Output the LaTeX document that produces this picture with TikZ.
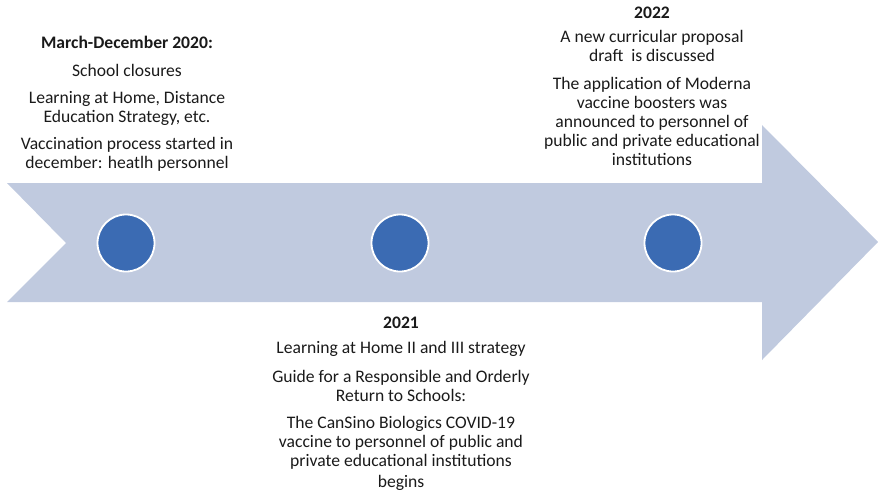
\documentclass[tikz,border=0pt]{standalone}
\usepackage{fontspec}
\setmainfont{Carlito}
\definecolor{arrowfill}{HTML}{C0CADF}
\definecolor{dotfill}{HTML}{3B6BB3}
\definecolor{ink}{HTML}{1A1A1A}
\begin{document}
\begin{tikzpicture}[x=1pt,y=-1pt,
  milestone/.style={circle,fill=dotfill,draw=white,line width=1.8pt,minimum size=57pt,inner sep=0pt},
  event/.style={align=center,inner sep=0pt,text=ink,font=\fontsize{17.6}{19}\selectfont}]
\useasboundingbox (0,0) rectangle (878,491);
% timeline arrow: notched tail on the left, head on the right
\fill[arrowfill] (7,183) -- (762,183) -- (762,125) -- (878,242) -- (762,360)
  -- (762,302) -- (7,302) -- (66,243) -- cycle;
% milestones along the arrow
\node[milestone] (m2020) at (126,243) {};
\node[milestone] (m2021) at (400,243) {};
\node[milestone] (m2022) at (673,243) {};
% 2020 events
\node[event,anchor=north] (e2020) at (127,36) {%
  {\bfseries March-December 2020:}\\[9pt]
  School closures\\[8pt]
  Learning at Home, Distance\\
  Education Strategy, etc.\\[8pt]
  Vaccination process started in\\
  december: heatlh personnel};
% 2022 events
\node[event,anchor=north] (e2022) at (652,7) {%
  {\bfseries 2022}\\[5pt]
  A new curricular proposal\\
  draft\ \ is discussed\\[9pt]
  The application of Moderna\\
  vaccine boosters was\\
  announced to personnel of\\
  public and private educational\\
  institutions};
% 2021 events
\node[event,anchor=north] (e2021) at (401,317) {%
  {\bfseries 2021}\\[6pt]
  Learning at Home II and III strategy\\[10pt]
  Guide for a Responsible and Orderly\\
  Return to Schools:\\[8pt]
  The CanSino Biologics COVID-19\\
  vaccine to personnel of public and\\
  private educational institutions\\[2pt]
  begins};
\end{tikzpicture}
\end{document}
